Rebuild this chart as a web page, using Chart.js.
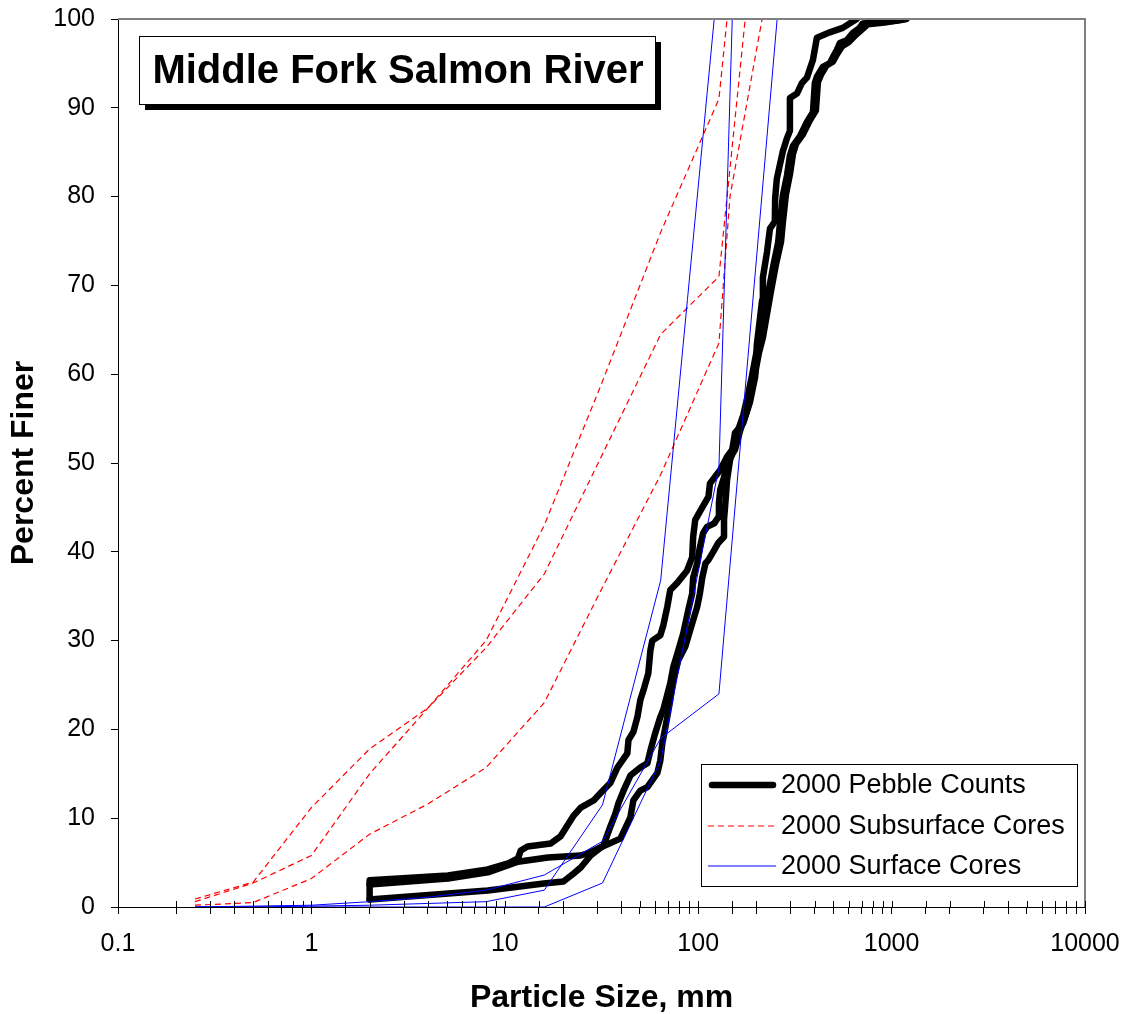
<!DOCTYPE html>
<html>
<head>
<meta charset="utf-8">
<title>Middle Fork Salmon River</title>
<script src="https://cdn.jsdelivr.net/npm/chart.js@4.4.1/dist/chart.umd.min.js"></script>
<style>
  html, body { margin: 0; padding: 0; background: #fff; }
  #caixa { width: 1131px; height: 1014px; position: relative; }
</style>
</head>
<body>
<div id="caixa"><canvas id="grafico"></canvas></div>
<script>
// Subsurface cores (mm, % finer)
const tamSub1 = [0.25, 0.5, 1, 2, 4, 8, 16, 32, 64, 128, 141];
const pctSub1 = [0.9, 2.8, 11.2, 17.8, 22.4, 30.0, 43.0, 59.2, 76.0, 91.0, 100];
const tamSub2 = [0.25, 0.5, 1, 2, 4, 8, 16, 32, 64, 128, 175];
const pctSub2 = [0.6, 2.7, 5.8, 15.0, 22.4, 29.2, 37.5, 51.0, 64.5, 71.0, 100];
const tamSub3 = [0.25, 0.5, 1, 2, 4, 8, 16, 32, 64, 128, 146, 214];
const pctSub3 = [0.2, 0.5, 3.2, 8.2, 11.6, 15.7, 23.0, 36.0, 48.7, 63.5, 80.0, 100];

// Surface cores
const tamSup1 = [0.25, 0.5, 1, 2, 4, 8, 16, 32, 64, 128, 256];
const pctSup1 = [0, 0.1, 0.2, 0.6, 1.1, 1.9, 3.6, 7.4, 19.0, 24.0, 100];
const tamSup2 = [0.25, 0.5, 1, 2, 4, 8, 16, 32, 64, 121];
const pctSup2 = [0, 0, 0.1, 0.2, 0.4, 0.6, 1.9, 11.5, 36.8, 100];
const tamSup3 = [0.25, 0.5, 1, 2, 4, 8, 16, 32, 64, 128, 150];
const pctSup3 = [0, 0, 0, 0, 0, 0, 0, 2.7, 16.5, 49.5, 100];

// Pebble counts
const tamPeb1 = [2, 2, 5.08, 8.17, 10.4, 11.7, 12.1, 13.1, 17.3, 19.4, 22.7, 24.7, 28.8, 31.2, 35.2,
  38.2, 43.0, 43.6, 46.2, 48.5, 50.2, 52.1, 55.2, 56.6, 57.9, 63.7, 66.0, 69.2, 71.7, 77.9,
  87.7, 93.1, 94.2, 96.5, 105, 113, 115, 130, 141, 150, 155, 171, 185, 197, 201,
  214, 216, 227, 235, 249, 250, 255, 274, 288, 298, 298, 324, 344, 365, 392, 411, 479, 559, 660];
const pctPeb1 = [0.85, 3.0, 3.55, 4.23, 4.9, 5.47, 6.37, 6.82, 7.16, 7.95, 10.3, 11.2, 12.0, 12.8, 14.0,
  15.7, 17.3, 18.8, 19.7, 21.4, 23.3, 24.4, 26.3, 28.9, 30.0, 30.6, 31.7, 33.8, 35.7, 36.5,
  37.9, 39.4, 41.7, 43.6, 45.0, 46.2, 47.7, 49.2, 50.7, 51.5, 53.4, 54.5, 56.8, 59.7, 63.3,
  68.3, 70.9, 73.8, 76.4, 77.2, 79.8, 82.0, 85.1, 86.6, 87.4, 91.1, 91.6, 92.8, 93.4, 95.4, 97.9, 98.5, 99.0, 100];
const tamPeb2 = [2, 5.08, 8.17, 11.7, 16.7, 24.7, 26.8, 31.2, 39.6, 44.6, 46.2, 50.2, 54.6, 61.5, 63.7,
  65.2, 67.6, 69.2, 71.7, 74.3, 78.9, 85.7, 91.0, 94.2, 98.8, 102, 105, 109, 113, 121,
  127, 136, 136, 139, 141, 146, 152, 161, 171, 181, 190, 199, 209, 227, 244,
  259, 265, 274, 288, 298, 309, 336, 365, 392, 401, 411, 441, 479, 497, 521,
  540, 586, 629, 684, 709, 837, 1061, 1194];
const pctPeb2 = [2.54, 3.2, 3.9, 5.1, 5.58, 5.8, 6.03, 6.7, 7.7, 10.1, 12.0, 13.1, 13.5, 15.1, 16.5,
  18.4, 20.2, 21.4, 23.3, 25.5, 27.8, 29.3, 31.2, 32.3, 33.8, 35.3, 37.1, 38.7, 39.1, 40.2,
  41.0, 41.7, 43.6, 46.2, 48.1, 50.3, 51.5, 53.7, 55.4, 57.7, 59.9, 62.2, 63.9, 68.4, 72.1,
  74.8, 77.1, 80.1, 82.4, 84.6, 85.7, 86.8, 88.4, 89.5, 92.8, 93.5, 94.6, 95.0, 95.7, 96.5,
  97.3, 97.6, 98.4, 99.0, 99.5, 99.6, 99.8, 100];
const tamPeb3 = [2, 8.17, 15.9, 20.1, 22.7, 24.7, 27.8, 32.4, 35.2, 37.3, 38.7, 41.1, 44.6, 50.2, 54.6,
  56.6, 60.0, 63.7, 66.0, 71.7, 74.3, 78.9, 83.7, 88.8, 93.1, 94.2, 98.8, 102, 106, 111,
  121, 127, 128, 130, 136, 141, 155, 165, 177, 188, 197, 206, 216, 235, 252,
  268, 274, 284, 298, 309, 320, 348, 378, 406, 416, 431, 462, 497, 521, 553,
  601, 652, 709, 752, 920, 1167];
const pctPeb3 = [0.85, 1.86, 2.65, 2.87, 3.78, 4.45, 5.8, 6.93, 9.1, 10.5, 11.7, 13.1, 14.8, 15.7, 16.2,
  17.6, 19.6, 21.4, 22.2, 25.2, 27.0, 28.9, 30.8, 33.4, 35.3, 37.1, 38.7, 40.5, 42.1, 42.8,
  43.2, 43.9, 45.5, 47.0, 48.4, 50.0, 51.5, 53.7, 55.6, 57.9, 60.1, 62.4, 64.1, 68.7, 72.3,
  74.9, 77.1, 80.2, 82.5, 84.8, 85.9, 87.0, 88.6, 89.7, 92.9, 93.7, 94.8, 95.2, 96.0, 96.9,
  97.4, 98.2, 98.9, 99.4, 99.6, 100];

const titulo = "Middle Fork Salmon River";
const nomesLegenda = ["2000 Pebble Counts", "2000 Subsurface Cores", "2000 Surface Cores"];
const eixoX = "Particle Size, mm";
const eixoY = "Percent Finer";

Chart.defaults.font.family = '"Liberation Sans", Arial, sans-serif';
Chart.defaults.color = "#000";

function pares(xs, ys) {
  return xs.map((x, i) => ({ x: x, y: ys[i] }));
}

const estiloPeb = { borderColor: "#000", borderWidth: 6.5, borderJoinStyle: "round", borderCapStyle: "round", order: 2 };
const estiloSub = { borderColor: "#ff0000", borderWidth: 1.2, borderDash: [6, 4], order: 1 };
const estiloSup = { borderColor: "#0000ff", borderWidth: 1, order: 0 };

const conjuntos = [
  { label: nomesLegenda[0], data: pares(tamPeb1, pctPeb1), ...estiloPeb },
  { label: nomesLegenda[0], data: pares(tamPeb2, pctPeb2), ...estiloPeb },
  { label: nomesLegenda[0], data: pares(tamPeb3, pctPeb3), ...estiloPeb },
  { label: nomesLegenda[1], data: pares(tamSub1, pctSub1), ...estiloSub },
  { label: nomesLegenda[1], data: pares(tamSub2, pctSub2), ...estiloSub },
  { label: nomesLegenda[1], data: pares(tamSub3, pctSub3), ...estiloSub },
  { label: nomesLegenda[2], data: pares(tamSup1, pctSup1), ...estiloSup },
  { label: nomesLegenda[2], data: pares(tamSup2, pctSup2), ...estiloSup },
  { label: nomesLegenda[2], data: pares(tamSup3, pctSup3), ...estiloSup }
];

// moldura, caixa do titulo e legenda desenhadas por cima
const molduraPlugin = {
  id: "moldura",
  afterDraw(chart) {
    const { ctx, chartArea: a, scales } = chart;
    ctx.save();

    // borda cinza em cima e a direita
    ctx.strokeStyle = "#808080";
    ctx.lineWidth = 2;
    ctx.beginPath();
    ctx.moveTo(a.left, a.top);
    ctx.lineTo(a.right, a.top);
    ctx.lineTo(a.right, a.bottom);
    ctx.stroke();

    // parte interna dos tracinhos do eixo x
    ctx.strokeStyle = "#000";
    ctx.lineWidth = 1;
    scales.x.ticks.forEach(t => {
      const px = Math.round(scales.x.getPixelForValue(t.value)) + 0.5;
      ctx.beginPath();
      ctx.moveTo(px, a.bottom - 6);
      ctx.lineTo(px, a.bottom);
      ctx.stroke();
    });

    // caixa do titulo com sombra
    ctx.fillStyle = "#000";
    ctx.fillRect(145, 42, 516, 68);
    ctx.fillStyle = "#fff";
    ctx.fillRect(139, 36, 516, 68);
    ctx.strokeStyle = "#000";
    ctx.strokeRect(139.5, 36.5, 516, 68);
    ctx.fillStyle = "#000";
    ctx.font = 'bold 40px "Liberation Sans", Arial, sans-serif';
    ctx.textAlign = "center";
    ctx.textBaseline = "middle";
    ctx.fillText(titulo, 398, 72);

    // legenda
    ctx.fillStyle = "#fff";
    ctx.fillRect(701, 764, 376, 122);
    ctx.strokeStyle = "#000";
    ctx.lineWidth = 1;
    ctx.strokeRect(701.5, 764.5, 376, 122);
    const linhas = [785, 826, 866];
    const amostras = [conjuntos[0], conjuntos[3], conjuntos[6]];
    ctx.font = '27px "Liberation Sans", Arial, sans-serif';
    ctx.textAlign = "left";
    amostras.forEach((ds, i) => {
      ctx.save();
      ctx.strokeStyle = ds.borderColor;
      ctx.lineWidth = ds.borderWidth;
      ctx.lineCap = ds.borderCapStyle || "butt";
      ctx.setLineDash(ds.borderDash || []);
      ctx.beginPath();
      ctx.moveTo(ds.borderCapStyle === "round" ? 712 : 708, linhas[i]);
      ctx.lineTo(ds.borderCapStyle === "round" ? 773 : 776, linhas[i]);
      ctx.stroke();
      ctx.restore();
      ctx.fillStyle = "#000";
      ctx.fillText(nomesLegenda[i], 781, linhas[i] + 1);
    });

    ctx.restore();
  }
};

const ctx = document.getElementById("grafico").getContext("2d");
const chart = new Chart(ctx, {
  type: "line",
  data: { datasets: conjuntos },
  plugins: [molduraPlugin],
  options: {
    responsive: true,
    maintainAspectRatio: false,
    animation: false,
    elements: { point: { radius: 0, hoverRadius: 0 }, line: { tension: 0 } },
    layout: { padding: { top: 19, right: 46, bottom: 0, left: 0 } },
    plugins: {
      legend: { display: false },
      tooltip: { enabled: false }
    },
    scales: {
      x: {
        type: "logarithmic",
        min: 0.1,
        max: 10000,
        position: "bottom",
        border: { display: true, color: "#000", width: 1 },
        grid: { display: true, drawOnChartArea: false, drawTicks: true, tickLength: 7, color: "#000" },
        ticks: {
          autoSkip: false,
          maxRotation: 0,
          padding: 15,
          font: { size: 25 },
          color: "#000",
          callback: function (v) {
            const l = Math.log10(v);
            if (Math.abs(l - Math.round(l)) < 1e-6) return String(v);
            return "";
          }
        },
        title: { display: true, text: eixoX, font: { size: 32, weight: "bold", lineHeight: 1 }, padding: { top: 0, bottom: 0 }, color: "#000" },
        afterFit: function (s) {
          s.height = 107;
          s.paddingLeft = 0;
          s.paddingRight = 0;
        }
      },
      y: {
        type: "linear",
        min: 0,
        max: 100,
        border: { display: true, color: "#000", width: 1 },
        grid: { display: true, drawOnChartArea: false, drawTicks: true, tickLength: 7, color: "#000" },
        ticks: { stepSize: 10, padding: 16, font: { size: 25 }, color: "#000" },
        title: { display: true, text: eixoY, font: { size: 32, weight: "bold", lineHeight: 1 }, padding: { top: 8, bottom: 0 }, color: "#000" },
        afterFit: function (s) {
          s.width = 118;
          s.paddingTop = 0;
          s.paddingBottom = 0;
        }
      }
    }
  }
});
</script>
</body>
</html>
